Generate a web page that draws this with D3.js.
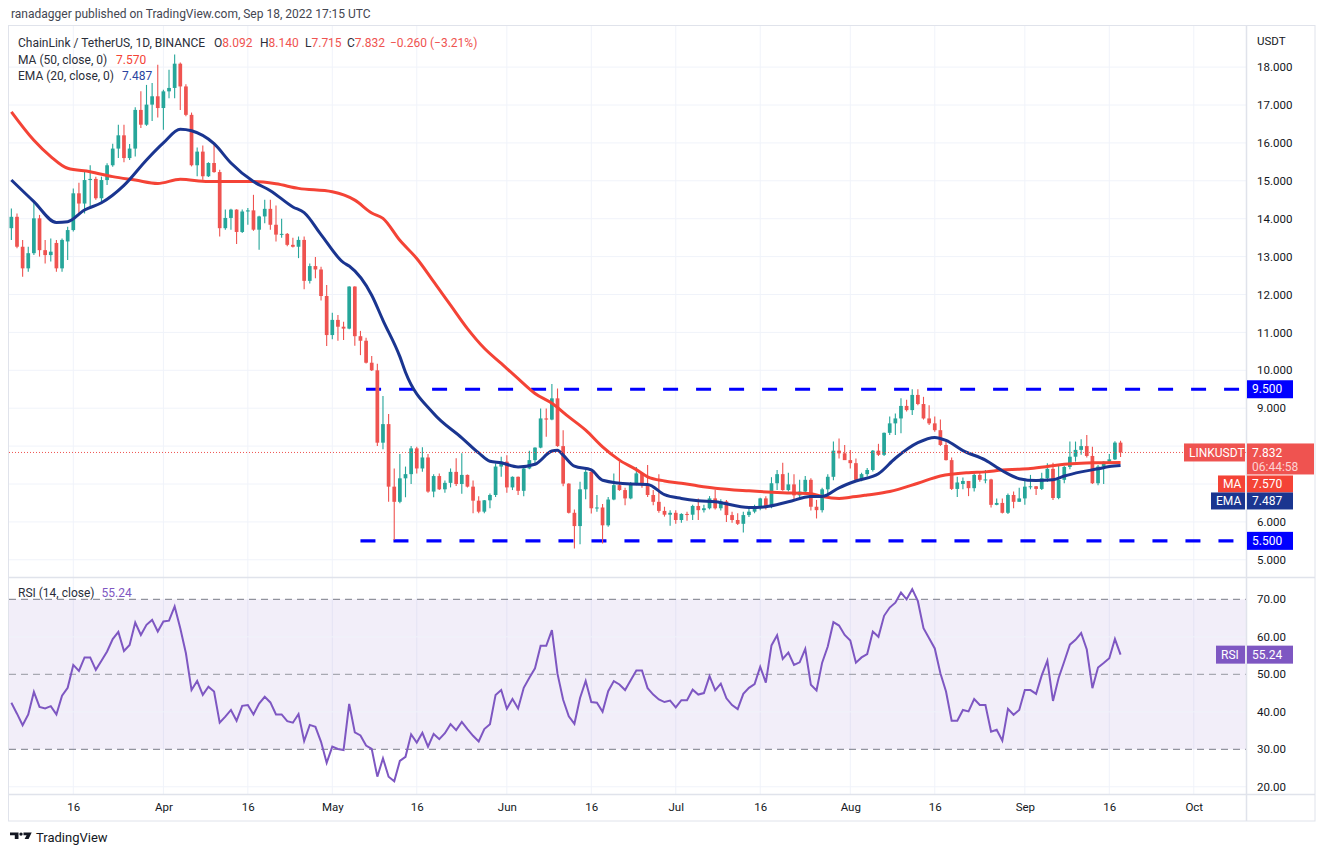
<!DOCTYPE html>
<html>
<head>
<meta charset="utf-8">
<title>LINKUSDT 1D</title>
<script src="https://cdn.jsdelivr.net/npm/d3@7"></script>
<style>
  body { margin: 0; background: #ffffff; }
  svg text { font-family: Roboto, "Noto Sans", sans-serif; }
</style>
</head>
<body>
<div id="chart"></div>
<script>
// Daily candles, first candle is 2022-03-05
var startDay = "2022-03-05";

var opens = [
  13.75,14.05,13.26,12.69,13.09,14.01,13.17,13.04,13.36,12.69,
  13.40,13.70,14.67,14.40,15.02,15.05,14.54,15.02,15.41,15.85,
  16.20,15.60,15.85,16.87,16.48,17.01,17.23,16.92,17.36,17.45,
  18.09,17.49,16.74,15.41,15.77,15.12,15.47,15.23,13.75,14.02,
  14.24,13.65,14.19,14.22,13.71,14.06,14.26,13.84,13.58,13.60,
  13.31,13.26,13.44,12.36,12.75,12.66,11.96,10.93,11.33,11.15,
  11.10,12.21,10.90,10.78,10.20,10.00,8.09,8.58,6.93,6.53,
  7.15,7.26,7.94,7.41,7.70,6.80,7.21,6.86,7.03,7.32,
  7.00,7.24,6.93,6.56,6.27,6.57,6.71,7.46,7.59,6.91,
  7.19,6.82,7.41,7.63,7.96,8.73,8.70,9.26,8.00,7.01,
  6.24,5.89,6.86,7.32,6.36,6.38,5.91,6.59,6.97,6.84,
  6.62,7.01,7.28,6.97,6.71,6.53,6.29,6.19,6.24,6.05,
  6.21,6.19,6.42,6.31,6.36,6.62,6.36,6.54,6.18,6.05,
  5.95,6.18,6.27,6.40,6.62,6.40,7.02,7.26,6.84,6.99,
  6.70,6.80,7.11,6.40,6.31,6.86,7.19,7.88,7.81,7.63,
  7.55,7.11,7.26,7.37,7.88,7.77,8.35,8.60,8.73,9.06,
  8.95,9.35,9.11,8.73,8.60,8.42,8.03,7.63,6.87,7.00,
  7.08,6.89,7.24,7.11,7.12,6.45,6.50,6.24,6.71,6.53,
  6.62,6.93,6.94,6.87,7.15,7.40,6.63,7.11,7.45,7.72,
  7.90,8.00,7.74,7.02,7.46,7.59,7.65,8.092
];
var highs = [
  14.27,14.14,13.44,13.26,14.45,14.10,13.44,13.48,13.44,13.48,
  13.79,14.80,14.95,15.28,15.41,15.11,15.11,15.46,15.98,16.48,
  16.48,15.97,16.94,17.36,17.53,17.58,18.06,17.40,17.93,18.33,
  18.12,17.55,16.80,15.88,15.93,15.49,15.97,15.29,14.24,14.26,
  14.25,14.24,14.28,14.63,14.08,14.50,14.50,14.35,14.00,13.62,
  13.50,13.53,13.53,12.82,12.99,12.73,12.25,11.52,11.46,11.28,
  12.22,12.22,11.04,10.86,10.38,10.17,9.32,8.85,7.41,7.79,
  7.46,8.00,7.98,7.97,7.79,7.26,7.28,7.09,7.41,7.68,
  7.81,7.25,7.09,6.68,6.58,6.75,7.54,7.72,7.76,7.20,
  7.20,7.50,7.88,7.97,8.99,8.99,9.64,9.52,8.42,7.02,
  6.33,7.06,7.38,7.35,6.71,6.47,6.66,7.28,7.59,6.90,
  7.05,7.45,7.30,7.50,6.84,7.26,6.40,6.31,6.31,6.23,
  6.27,6.45,6.62,6.45,6.68,6.84,6.60,6.58,6.27,6.23,
  6.27,6.40,6.45,6.64,6.68,7.18,7.37,7.56,7.30,7.26,
  7.11,7.21,7.15,6.58,6.90,7.26,8.12,8.20,8.03,7.90,
  7.67,7.30,7.42,7.90,8.06,8.36,8.78,8.86,9.26,9.22,
  9.50,9.50,9.30,9.08,8.78,8.70,8.16,7.70,7.19,7.17,
  7.08,7.28,7.32,7.37,7.14,6.62,6.62,6.75,6.80,6.90,
  7.15,7.24,6.95,7.30,7.55,7.56,7.50,7.48,8.12,8.12,
  8.18,8.29,7.98,7.50,7.60,7.79,8.13,8.140
];
var lows = [
  13.44,13.22,12.47,12.60,13.04,13.00,12.82,12.87,12.60,12.60,
  12.91,13.66,14.14,14.14,14.31,14.50,14.40,14.89,15.37,15.60,
  15.49,15.55,15.64,16.39,16.45,16.58,16.67,16.35,17.18,17.18,
  16.87,16.70,15.38,15.12,15.03,15.10,15.21,13.53,13.71,13.71,
  13.33,13.62,13.84,13.68,13.18,13.88,13.71,13.40,13.50,13.27,
  13.24,12.96,12.14,12.29,12.43,11.84,10.64,10.82,10.78,10.80,
  11.08,10.65,10.40,10.18,9.98,8.00,7.92,6.53,5.52,6.49,
  6.65,7.00,7.28,7.32,6.77,6.65,6.84,6.77,6.91,6.95,
  6.74,6.91,6.23,6.23,6.23,6.36,6.66,7.19,6.77,6.84,
  6.71,6.68,7.39,7.54,7.94,8.25,8.68,7.98,6.94,6.22,
  5.30,5.41,6.60,6.22,6.27,5.43,5.87,6.57,6.82,6.44,
  6.60,6.97,6.90,6.66,6.44,6.24,6.14,5.90,5.95,5.98,
  6.03,6.05,6.05,6.25,6.33,6.33,6.30,6.00,5.98,5.92,
  5.72,6.13,6.23,6.31,6.33,6.36,6.84,6.82,6.80,6.56,
  6.62,6.75,6.30,6.09,6.25,6.70,7.10,7.67,7.63,7.41,
  7.07,7.07,7.20,7.33,7.74,7.74,8.29,8.29,8.34,8.91,
  8.82,9.08,8.70,8.56,8.38,8.00,7.62,6.84,6.66,6.86,
  6.68,6.80,7.06,7.02,6.38,6.44,6.22,6.21,6.36,6.53,
  6.45,6.86,6.71,6.84,7.05,6.58,6.60,7.02,7.39,7.59,
  7.77,7.70,7.00,6.97,7.00,7.53,7.63,7.715
];
var closes = [
  14.05,13.26,12.69,13.09,14.01,13.17,13.04,13.13,12.69,13.44,
  13.70,14.67,14.40,15.02,15.05,14.54,15.02,15.41,15.85,16.20,
  15.60,15.85,16.87,16.48,17.01,17.23,16.92,17.36,17.45,18.09,
  17.49,16.74,15.41,15.77,15.12,15.47,15.23,13.75,14.02,14.24,
  13.65,14.19,14.22,13.71,14.06,14.26,13.84,13.58,13.60,13.31,
  13.26,13.44,12.36,12.75,12.66,11.96,10.93,11.33,11.15,11.10,
  12.21,10.90,10.78,10.20,10.00,8.09,8.58,6.93,6.53,7.15,
  7.26,7.94,7.41,7.70,6.80,7.21,6.86,7.03,7.32,7.00,
  7.24,6.93,6.56,6.27,6.57,6.71,7.46,7.59,6.91,7.19,
  6.82,7.41,7.63,7.96,8.73,8.70,9.26,8.00,7.01,6.24,
  5.89,6.86,7.32,6.36,6.38,5.91,6.59,6.97,6.84,6.62,
  7.01,7.28,6.97,6.71,6.53,6.29,6.19,6.24,6.05,6.21,
  6.19,6.42,6.31,6.36,6.62,6.36,6.54,6.18,6.05,5.95,
  6.18,6.27,6.40,6.62,6.40,7.02,7.26,6.84,6.99,6.70,
  6.80,7.11,6.40,6.31,6.86,7.19,7.88,7.81,7.63,7.55,
  7.11,7.26,7.37,7.88,7.77,8.35,8.60,8.73,9.06,8.95,
  9.35,9.11,8.73,8.60,8.42,8.03,7.63,6.87,7.04,7.08,
  6.89,7.24,7.11,7.12,6.45,6.50,6.24,6.71,6.53,6.62,
  6.93,6.94,6.87,7.15,7.40,6.63,7.11,7.45,7.72,7.90,
  8.00,7.74,7.02,7.46,7.59,7.65,8.092,7.832
];

// RSI(14) per day
var rsiValues = [
  42.4,39.5,36.4,39.3,45.3,41.3,40.9,41.5,39.3,44.3,
  46.4,52.5,50.9,54.5,54.5,51.2,53.6,56.1,59.4,61.3,
  56.2,57.8,63.8,60.5,63.2,64.5,61.4,64.1,64.3,68.1,
  62.3,55.6,45.8,48.2,44.5,46.7,45.4,37.1,38.7,40.5,
  37.6,41.6,41.8,39.3,42.2,44.0,42.5,39.3,39.3,37.5,
  37.1,39.4,32.2,36.5,36.0,32.0,26.4,30.7,30.1,29.8,
  42.1,34.5,33.7,31.0,30.1,22.7,27.6,22.7,21.5,26.9,
  28.0,34.0,31.8,34.4,30.7,34.1,32.7,34.3,36.7,35.1,
  37.3,35.4,33.6,32.1,35.4,36.7,44.5,45.8,40.8,43.4,
  40.9,46.4,49.1,51.6,57.6,57.6,61.8,50.1,43.2,38.8,
  36.8,43.7,48.2,42.6,42.4,40.0,45.5,48.2,47.3,45.8,
  48.4,51.0,51.0,46.3,44.6,43.3,42.6,43.0,41.2,43.1,
  43.1,45.9,44.6,45.0,49.5,45.7,47.5,43.6,41.8,40.7,
  44.8,46.4,47.4,52.0,47.8,57.7,60.4,54.1,55.8,52.5,
  53.2,56.8,47.2,45.7,53.1,57.4,63.9,63.0,60.5,59.0,
  53.1,54.5,55.4,61.4,60.0,65.6,67.8,69.1,71.8,70.0,
  72.7,69.5,62.3,59.6,56.9,50.3,45.4,37.6,37.6,40.5,
  40.1,43.4,41.8,41.8,34.7,35.2,32.3,40.8,39.2,40.5,
  45.8,45.8,44.8,49.7,53.6,42.9,49.0,53.4,57.9,59.2,
  61.0,56.6,46.3,51.8,53.0,54.3,59.4,55.24
];

// Moving averages, read at sample days (day number counted from startDay)
var emaDays = [0,4,8,10,13,16,20,24,27,30,32,36,39,43,46,50,52,55,59,60,64,66,69,70,75,80,83,85,87,90,93,96,97,98,100,103,105,110,113,116,119,122,125,131,134,138,142,144,147,150,154,157,161,164,166,169,173,176,179,182,185,187,190,193,195,197];
var emaValues = [15.02,14.45,13.90,13.92,14.23,14.42,14.88,15.55,16.00,16.36,16.32,15.98,15.47,14.98,14.74,14.31,14.16,13.58,12.84,12.75,11.98,11.32,10.36,9.95,8.86,8.22,7.82,7.60,7.56,7.45,7.52,7.87,7.89,7.76,7.47,7.37,7.10,7.00,6.99,6.72,6.62,6.56,6.53,6.38,6.40,6.53,6.67,6.67,6.90,7.08,7.27,7.68,8.09,8.23,8.15,7.88,7.63,7.35,7.14,7.09,7.11,7.21,7.32,7.40,7.46,7.487];
var maDays = [0,4,7,10,14,18,22,26,30,35,39,43,47,51,57,61,64,66,69,72,75,78,81,84,87,90,93,96,99,102,105,108,111,113,116,119,122,125,131,137,142,144,147,149,152,156,161,165,170,173,176,179,181,184,187,190,193,197];
var maValues = [16.82,16.07,15.64,15.33,15.24,15.11,15.02,14.93,15.04,14.98,14.98,14.98,14.92,14.80,14.71,14.49,14.15,14.01,13.43,12.95,12.34,11.72,11.10,10.58,10.18,9.78,9.39,9.13,8.77,8.42,7.98,7.63,7.38,7.19,7.08,7.02,6.95,6.89,6.82,6.77,6.74,6.67,6.62,6.65,6.71,6.80,7.02,7.21,7.30,7.32,7.37,7.39,7.41,7.46,7.52,7.55,7.56,7.570];

// Horizontal support / resistance drawings
var levelPrices = [9.5, 5.5];
var levelStarts = ["2022-05-07", "2022-05-06"];

// Axis ticks
var priceTicks = [5, 6, 7, 8, 9, 10, 11, 12, 13, 14, 15, 16, 17, 18];
var rsiTicks = [20, 30, 40, 50, 60, 70];
var rsiLevels = [70, 50, 30];
var timeTicks = ["2022-03-16","2022-04-01","2022-04-16","2022-05-01","2022-05-16","2022-06-01","2022-06-16","2022-07-01","2022-07-16","2022-08-01","2022-08-16","2022-09-01","2022-09-16","2022-10-01"];
var timeTickLabels = ["16","Apr","16","May","16","Jun","16","Jul","16","Aug","16","Sep","16","Oct"];

// Colours
var upColor = "#26a69a";
var downColor = "#ef5350";
var maColor = "#f44336";
var emaColor = "#1a3590";
var rsiColor = "#7e57c2";
var levelColor = "#0000ff";
var gridColor = "#f0f3fa";
var borderColor = "#e0e3eb";
var textColor = "#131722";

// Layout
var svgWidth = 1324, svgHeight = 856;
var plotLeft = 9, axisLeft = 1247, frameRight = 1315;
var mainTop = 26, mainBottom = 577, rsiTop = 578, rsiBottom = 794, frameBottom = 821;
var axisFont = "11.5px";

var svg = d3.select("#chart")
  .append("svg")
  .attr("width", svgWidth)
  .attr("height", svgHeight);

var parseDay = d3.utcParse("%Y-%m-%d");
var day0 = parseDay(startDay);

var candles = closes.map(function(c, i) {
  return { date: d3.utcDay.offset(day0, i), o: opens[i], h: highs[i], l: lows[i], c: c, rsi: rsiValues[i] };
});

// Scales
var xScale = d3.scaleUtc()
  .domain([parseDay("2022-03-16"), parseDay("2022-09-16")])
  .range([73.3, 1109.3]);
var yScale = d3.scaleLinear().domain([5, 18]).range([559.8, 67.1]);
var rsiScale = d3.scaleLinear().domain([20, 70]).range([786.8, 599.3]);

var last = candles[candles.length - 1];
var tagTop = yScale(last.c) - 9;

// Clip regions for both panes
var defs = svg.append("defs");
defs.append("clipPath").attr("id", "clipMain")
  .append("rect")
  .attr("x", plotLeft).attr("y", mainTop)
  .attr("width", axisLeft - plotLeft).attr("height", mainBottom - mainTop);
defs.append("clipPath").attr("id", "clipRsi")
  .append("rect")
  .attr("x", plotLeft).attr("y", rsiTop)
  .attr("width", axisLeft - plotLeft).attr("height", rsiBottom - rsiTop);
// price labels that sit under the last-price tag only show above it
defs.append("clipPath").attr("id", "clipAboveTag")
  .append("rect")
  .attr("x", axisLeft).attr("y", 0)
  .attr("width", 80).attr("height", tagTop);

// Header line above the chart
svg.append("text")
  .attr("x", 11).attr("y", 18)
  .attr("font-size", "12px")
  .attr("fill", "#434651")
  .text("ranadagger published on TradingView.com, Sep 18, 2022 17:15 UTC");

// Vertical grid lines
svg.append("g")
  .selectAll("line")
  .data(timeTicks)
  .join("line")
  .attr("x1", d => xScale(parseDay(d)))
  .attr("x2", d => xScale(parseDay(d)))
  .attr("y1", mainTop)
  .attr("y2", rsiBottom)
  .attr("stroke", gridColor);

// Horizontal grid in main pane
svg.append("g")
  .selectAll("line")
  .data(priceTicks)
  .join("line")
  .attr("x1", plotLeft).attr("x2", axisLeft)
  .attr("y1", d => yScale(d)).attr("y2", d => yScale(d))
  .attr("stroke", gridColor);

// RSI pane background band and grid
svg.append("rect")
  .attr("x", plotLeft)
  .attr("y", rsiScale(70))
  .attr("width", axisLeft - plotLeft)
  .attr("height", rsiScale(30) - rsiScale(70))
  .attr("fill", rsiColor)
  .attr("fill-opacity", 0.1);

svg.append("g")
  .selectAll("line")
  .data([20, 40, 60])
  .join("line")
  .attr("x1", plotLeft).attr("x2", axisLeft)
  .attr("y1", d => rsiScale(d)).attr("y2", d => rsiScale(d))
  .attr("stroke", gridColor);

svg.append("g")
  .selectAll("line")
  .data(rsiLevels)
  .join("line")
  .attr("x1", plotLeft).attr("x2", axisLeft)
  .attr("y1", d => rsiScale(d)).attr("y2", d => rsiScale(d))
  .attr("stroke", d => d === 50 ? "#9598a1" : "#787b86")
  .attr("stroke-dasharray", "7,5");

// Dashed support / resistance levels
svg.append("g")
  .attr("clip-path", "url(#clipMain)")
  .selectAll("line")
  .data(levelPrices)
  .join("line")
  .attr("x1", (d, i) => xScale(parseDay(levelStarts[i])))
  .attr("x2", axisLeft)
  .attr("y1", d => yScale(d))
  .attr("y2", d => yScale(d))
  .attr("stroke", levelColor)
  .attr("stroke-width", 3.2)
  .attr("stroke-dasharray", "15,18");

// Candles
var dayWidth = xScale(d3.utcDay.offset(day0, 1)) - xScale(day0);
var bodyWidth = dayWidth * 0.66;
var candleGroup = svg.append("g").attr("clip-path", "url(#clipMain)");

candleGroup.selectAll(".wick")
  .data(candles)
  .join("line")
  .attr("class", "wick")
  .attr("x1", d => xScale(d.date))
  .attr("x2", d => xScale(d.date))
  .attr("y1", d => yScale(d.h))
  .attr("y2", d => yScale(d.l))
  .attr("stroke", d => d.c >= d.o ? upColor : downColor)
  .attr("stroke-width", 1.1);

candleGroup.selectAll(".body")
  .data(candles)
  .join("rect")
  .attr("class", "body")
  .attr("x", d => xScale(d.date) - bodyWidth / 2)
  .attr("y", d => yScale(Math.max(d.o, d.c)))
  .attr("width", bodyWidth)
  .attr("height", d => Math.max(1, Math.abs(yScale(d.o) - yScale(d.c))))
  .attr("fill", d => d.c >= d.o ? upColor : downColor);

// MA 50 and EMA 20 lines
var maPoints = maDays.map((d, i) => ({ date: d3.utcDay.offset(day0, d), v: maValues[i] }));
var emaPoints = emaDays.map((d, i) => ({ date: d3.utcDay.offset(day0, d), v: emaValues[i] }));
var avgLine = d3.line()
  .x(d => xScale(d.date))
  .y(d => yScale(d.v))
  .curve(d3.curveMonotoneX);

var lineGroup = svg.append("g").attr("clip-path", "url(#clipMain)");
lineGroup.append("path")
  .datum(maPoints)
  .attr("d", avgLine)
  .attr("fill", "none")
  .attr("stroke", maColor)
  .attr("stroke-width", 3);
lineGroup.append("path")
  .datum(emaPoints)
  .attr("d", avgLine)
  .attr("fill", "none")
  .attr("stroke", emaColor)
  .attr("stroke-width", 3);

// Last price dotted line
svg.append("line")
  .attr("x1", plotLeft).attr("x2", axisLeft)
  .attr("y1", yScale(last.c)).attr("y2", yScale(last.c))
  .attr("stroke", downColor)
  .attr("stroke-dasharray", "1,2");

// RSI line
var rsiLine = d3.line()
  .x(d => xScale(d.date))
  .y(d => rsiScale(d.rsi));
svg.append("path")
  .datum(candles)
  .attr("clip-path", "url(#clipRsi)")
  .attr("d", rsiLine)
  .attr("fill", "none")
  .attr("stroke", rsiColor)
  .attr("stroke-width", 2);

// Frame, pane separators and price axis border
svg.append("rect")
  .attr("x", 8.5).attr("y", 25.5)
  .attr("width", frameRight - 8.5).attr("height", frameBottom - 25.5)
  .attr("fill", "none")
  .attr("stroke", borderColor);
svg.append("line")
  .attr("x1", 8.5).attr("x2", frameRight)
  .attr("y1", mainBottom + 0.5).attr("y2", mainBottom + 0.5)
  .attr("stroke", borderColor).attr("stroke-width", 1.5);
svg.append("line")
  .attr("x1", 8.5).attr("x2", frameRight)
  .attr("y1", rsiBottom + 0.5).attr("y2", rsiBottom + 0.5)
  .attr("stroke", borderColor).attr("stroke-width", 1.5);
svg.append("line")
  .attr("x1", axisLeft - 0.5).attr("x2", axisLeft - 0.5)
  .attr("y1", 25.5).attr("y2", frameBottom)
  .attr("stroke", borderColor).attr("stroke-width", 1.5);

// Price axis; the 7.000 label is fully covered by the MA tag in the original
var maTagTop = tagTop + 32, emaTagBottom = tagTop + 66;
var shownPriceTicks = priceTicks.filter(d => yScale(d) < maTagTop || yScale(d) > emaTagBottom);
var priceAxis = d3.axisRight(yScale)
  .tickValues(shownPriceTicks)
  .tickFormat(d3.format(".3f"))
  .tickSize(0)
  .tickPadding(10);
svg.append("g")
  .attr("transform", `translate(${axisLeft},0)`)
  .call(priceAxis)
  .call(g => g.select(".domain").remove())
  .call(g => g.selectAll(".tick")
    .filter(d => yScale(d) + 7 > tagTop && yScale(d) < maTagTop)
    .attr("clip-path", "url(#clipAboveTag)"))
  .selectAll("text")
  .attr("font-size", axisFont)
  .attr("font-family", "Roboto, sans-serif")
  .attr("fill", textColor);

svg.append("text")
  .attr("x", axisLeft + 10).attr("y", 45)
  .attr("font-size", axisFont)
  .attr("fill", textColor)
  .text("USDT");

// RSI axis
var rsiAxis = d3.axisRight(rsiScale)
  .tickValues(rsiTicks)
  .tickFormat(d3.format(".2f"))
  .tickSize(0)
  .tickPadding(10);
svg.append("g")
  .attr("transform", `translate(${axisLeft},0)`)
  .call(rsiAxis)
  .call(g => g.select(".domain").remove())
  .selectAll("text")
  .attr("font-size", axisFont)
  .attr("font-family", "Roboto, sans-serif")
  .attr("fill", textColor);

// Time axis
var timeAxis = d3.axisBottom(xScale)
  .tickValues(timeTicks.map(parseDay))
  .tickFormat((d, i) => timeTickLabels[i])
  .tickSize(0)
  .tickPadding(9);
svg.append("g")
  .attr("transform", `translate(0,${rsiBottom})`)
  .call(timeAxis)
  .call(g => g.select(".domain").remove())
  .selectAll("text")
  .attr("font-size", axisFont)
  .attr("font-family", "Roboto, sans-serif")
  .attr("fill", textColor);

// Boxes on the price axis
function axisTag(x, yTop, w, h, fill, label, color) {
  svg.append("rect")
    .attr("x", x).attr("y", yTop)
    .attr("width", w).attr("height", h)
    .attr("fill", fill);
  svg.append("text")
    .attr("x", x + 5).attr("y", yTop + h / 2)
    .attr("dy", "0.35em")
    .attr("font-size", "12px")
    .attr("fill", color || "#ffffff")
    .text(label);
}

levelPrices.forEach(function(p) {
  axisTag(axisLeft, yScale(p) - 9, 46, 18, levelColor, d3.format(".3f")(p));
});

axisTag(1184, tagTop, 61, 18, downColor, "LINKUSDT");
svg.append("rect")
  .attr("x", axisLeft).attr("y", tagTop)
  .attr("width", 67).attr("height", 31)
  .attr("fill", downColor);
svg.append("text")
  .attr("x", axisLeft + 5).attr("y", tagTop + 9)
  .attr("dy", "0.35em")
  .attr("font-size", "12px")
  .attr("fill", "#ffffff")
  .text(d3.format(".3f")(last.c));
svg.append("text")
  .attr("x", axisLeft + 5).attr("y", tagTop + 23)
  .attr("dy", "0.35em")
  .attr("font-size", "12px")
  .attr("fill", "#fcd4d3")
  .text("06:44:58");

axisTag(1218, maTagTop, 27, 17, maColor, "MA");
axisTag(axisLeft, maTagTop, 46, 17, maColor, d3.format(".3f")(maValues[maValues.length - 1]));
axisTag(1211, maTagTop + 17, 34, 17, emaColor, "EMA");
axisTag(axisLeft, maTagTop + 17, 46, 17, emaColor, d3.format(".3f")(emaValues[emaValues.length - 1]));

var lastRsi = rsiValues[rsiValues.length - 1];
axisTag(1216, rsiScale(lastRsi) - 9, 29, 18, rsiColor, "RSI");
axisTag(axisLeft, rsiScale(lastRsi) - 9, 46, 18, rsiColor, d3.format(".2f")(lastRsi));

// Legend, top left
var prevClose = closes[closes.length - 2];
var change = last.c - prevClose;
var legend = svg.append("g").attr("font-size", "12px").attr("fill", "#2a2e39");

legend.append("text").attr("x", 18).attr("y", 46.5).text("ChainLink / TetherUS, 1D, BINANCE");
[["O", last.o, 214], ["H", last.h, 260], ["L", last.l, 305], ["C", last.c, 347]].forEach(function(p) {
  var t = legend.append("text").attr("x", p[2]).attr("y", 46.5);
  t.append("tspan").text(p[0]);
  t.append("tspan").attr("fill", downColor).text(d3.format(".3f")(p[1]));
});
legend.append("text")
  .attr("x", 390).attr("y", 46.5)
  .attr("fill", downColor)
  .text(d3.format(".3f")(change).replace("-", "\u2212") + " (" + d3.format(".2f")(change / prevClose * 100).replace("-", "\u2212") + "%)");

var maText = legend.append("text").attr("x", 18).attr("y", 63.5);
maText.append("tspan").text("MA (50, close, 0)");
maText.append("tspan").attr("x", 116).attr("fill", maColor).text(d3.format(".3f")(maValues[maValues.length - 1]));

var emaText = legend.append("text").attr("x", 18).attr("y", 80);
emaText.append("tspan").text("EMA (20, close, 0)");
emaText.append("tspan").attr("x", 122).attr("fill", "#2a43a0").text(d3.format(".3f")(emaValues[emaValues.length - 1]));

var rsiText = legend.append("text").attr("x", 18).attr("y", 597);
rsiText.append("tspan").text("RSI (14, close)");
rsiText.append("tspan").attr("dx", 7).attr("fill", rsiColor).text(d3.format(".2f")(lastRsi));

// TradingView mark, bottom left
var logo = svg.append("g").attr("transform", "translate(10,832.5)").attr("fill", textColor);
logo.append("path").attr("d", "M0,0 H8.5 V6.5 H4.8 V2.8 H0 Z");
logo.append("circle").attr("cx", 11).attr("cy", 1.6).attr("r", 1.7);
logo.append("path").attr("d", "M13.5,0 H21.7 L18.6,6.5 H14.6 L16.6,2.8 H13.5 Z");
svg.append("text")
  .attr("x", 36).attr("y", 842)
  .attr("font-size", "13px")
  .attr("fill", textColor)
  .text("TradingView");
</script>
</body>
</html>
